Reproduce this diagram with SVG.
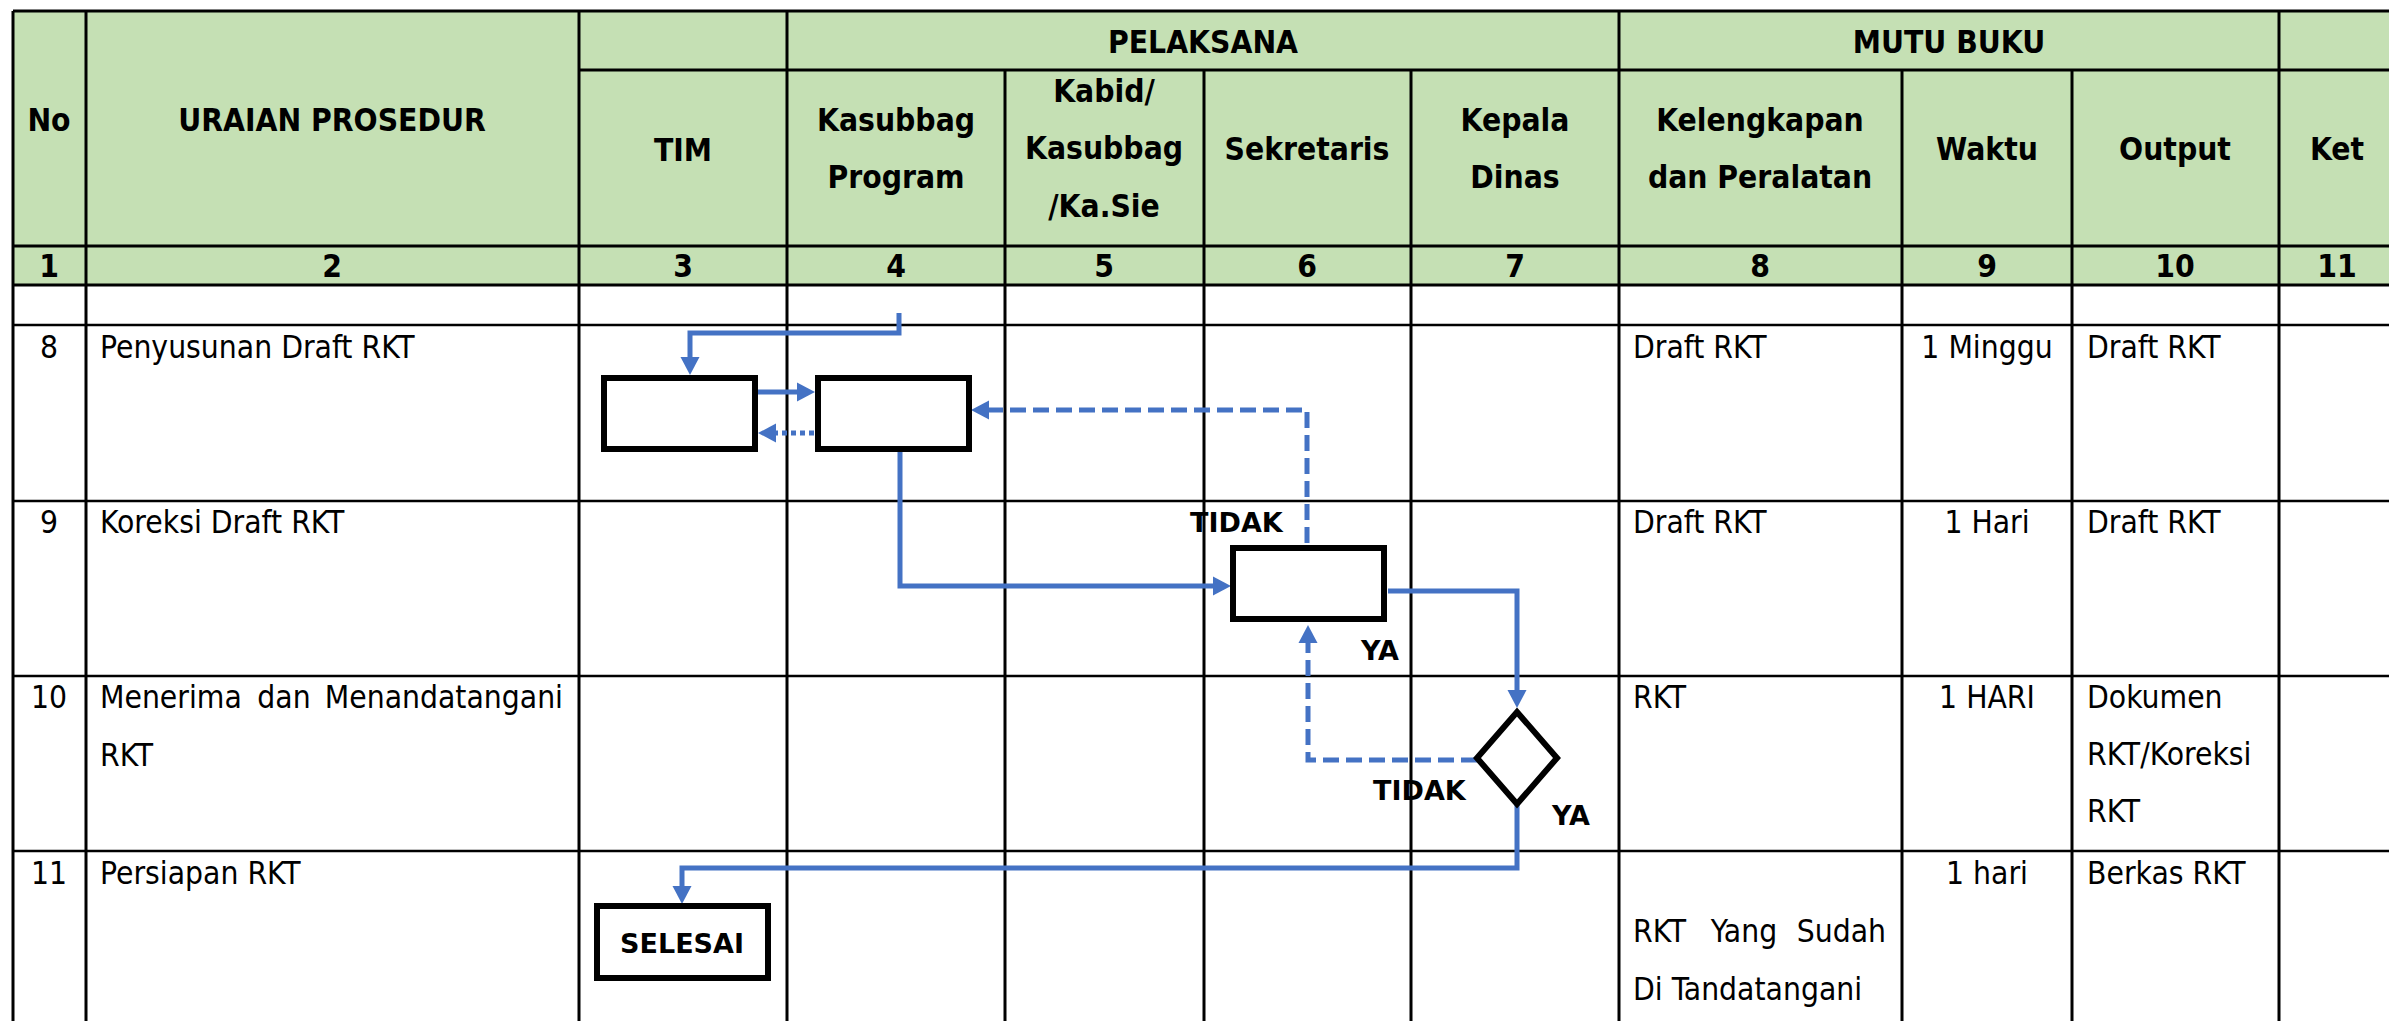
<svg xmlns="http://www.w3.org/2000/svg" width="2389" height="1021" viewBox="0 0 2389 1021">
<style>
.hl{stroke:#000;stroke-width:3;fill:none}
.bl{stroke:#000;stroke-width:2.5;fill:none}
.th{font-family:"DejaVu Sans Condensed","DejaVu Sans",sans-serif;font-stretch:condensed;font-weight:bold;font-size:31.5px;fill:#000;text-anchor:middle}
.td{font-family:"DejaVu Sans Condensed","DejaVu Sans",sans-serif;font-stretch:condensed;font-size:31.5px;fill:#000}
.mid{text-anchor:middle}
.end{text-anchor:end}
.lbl{font-family:"DejaVu Sans",sans-serif;font-weight:bold;font-size:27px;fill:#000}
.box{fill:#fff;stroke:#000;stroke-width:6}
.c{fill:none;stroke:#4472C4;stroke-width:5;stroke-linejoin:miter}
.dash{stroke-dasharray:16 7}
.dot{stroke-dasharray:5 4}
</style>
<defs>
<marker id="ah" markerUnits="userSpaceOnUse" markerWidth="20" markerHeight="20" refX="0" refY="9.5" orient="auto" overflow="visible">
<path d="M0,0 L18,9.5 L0,19 Z" fill="#4472C4"/>
</marker>
</defs>
<rect width="2389" height="1021" fill="#fff"/>
<g id="table">
<rect x="13" y="11" width="2382" height="274" fill="#C5E0B4"/>
<path class="hl" d="M13,11 H2395 M579,70 H2395 M13,246 H2395 M13,285 H2395"/>
<path class="bl" d="M13,325 H2395 M13,501 H2395 M13,676 H2395 M13,851 H2395"/>
<path class="hl" d="M13,11 V1021 M86,11 V1021 M579,11 V1021 M787,11 V1021 M1619,11 V1021 M2279,11 V1021 M1005,70 V1021 M1204,70 V1021 M1411,70 V1021 M1902,70 V1021 M2072,70 V1021"/>
</g>
<g id="header">
<text class="th" x="49" y="131">No</text>
<text class="th" x="332" y="131">URAIAN PROSEDUR</text>
<text class="th" x="683" y="161">TIM</text>
<text class="th" x="1203" y="53">PELAKSANA</text>
<text class="th" x="896" y="131">Kasubbag</text>
<text class="th" x="896" y="188">Program</text>
<text class="th" x="1104" y="102">Kabid/</text>
<text class="th" x="1104" y="159">Kasubbag</text>
<text class="th" x="1104" y="217">/Ka.Sie</text>
<text class="th" x="1307" y="160">Sekretaris</text>
<text class="th" x="1515" y="131">Kepala</text>
<text class="th" x="1515" y="188">Dinas</text>
<text class="th" x="1949" y="53">MUTU BUKU</text>
<text class="th" x="1760" y="131">Kelengkapan</text>
<text class="th" x="1760" y="188">dan Peralatan</text>
<text class="th" x="1987" y="160">Waktu</text>
<text class="th" x="2175" y="160">Output</text>
<text class="th" x="2337" y="160">Ket</text>
<text class="th" x="49" y="277">1</text>
<text class="th" x="332" y="277">2</text>
<text class="th" x="683" y="277">3</text>
<text class="th" x="896" y="277">4</text>
<text class="th" x="1104" y="277">5</text>
<text class="th" x="1307" y="277">6</text>
<text class="th" x="1515" y="277">7</text>
<text class="th" x="1760" y="277">8</text>
<text class="th" x="1987" y="277">9</text>
<text class="th" x="2175" y="277">10</text>
<text class="th" x="2337" y="277">11</text>
</g>
<g id="rows">
<text class="td mid" x="49" y="358">8</text>
<text class="td" x="100" y="358">Penyusunan Draft RKT</text>
<text class="td" x="1633" y="358">Draft RKT</text>
<text class="td mid" x="1987" y="358">1 Minggu</text>
<text class="td" x="2087" y="358">Draft RKT</text>
<text class="td mid" x="49" y="533">9</text>
<text class="td" x="100" y="533">Koreksi Draft RKT</text>
<text class="td" x="1633" y="533">Draft RKT</text>
<text class="td mid" x="1987" y="533">1 Hari</text>
<text class="td" x="2087" y="533">Draft RKT</text>
<text class="td mid" x="49" y="708">10</text>
<text class="td" x="100" y="708">Menerima</text>
<text class="td mid" x="284" y="708">dan</text>
<text class="td end" x="563" y="708">Menandatangani</text>
<text class="td" x="100" y="766">RKT</text>
<text class="td" x="1633" y="708">RKT</text>
<text class="td mid" x="1987" y="708">1 HARI</text>
<text class="td" x="2087" y="708">Dokumen</text>
<text class="td" x="2087" y="765">RKT/Koreksi</text>
<text class="td" x="2087" y="822">RKT</text>
<text class="td mid" x="49" y="884">11</text>
<text class="td" x="100" y="884">Persiapan RKT</text>
<text class="td" x="1633" y="942">RKT</text>
<text class="td mid" x="1744" y="942">Yang</text>
<text class="td end" x="1886" y="942">Sudah</text>
<text class="td" x="1633" y="1000">Di Tandatangani</text>
<text class="td mid" x="1987" y="884">1 hari</text>
<text class="td" x="2087" y="884">Berkas RKT</text>
</g>
<g id="connectors">
<path class="c" d="M899,313 V333 H690 V357" marker-end="url(#ah)"/>
<path class="c" d="M758,392 H797" marker-end="url(#ah)"/>
<path class="c dot" d="M814,433 H776" marker-end="url(#ah)"/>
<path class="c" d="M900,452 V586 H1213" marker-end="url(#ah)"/>
<path class="c dash" d="M1307,543 V410 H989" marker-end="url(#ah)"/>
<path class="c" d="M1388,591 H1517 V690" marker-end="url(#ah)"/>
<path class="c dash" d="M1477,760 H1308 V643" marker-end="url(#ah)"/>
<path class="c" d="M1517,805 V868 H682 V886" marker-end="url(#ah)"/>
</g>
<g id="node-tim"><rect class="box" x="604" y="378" width="151" height="71"/></g>
<g id="node-kasubbag"><rect class="box" x="818" y="378" width="151" height="71"/></g>
<g id="node-sekretaris"><rect class="box" x="1233" y="548" width="151" height="71"/></g>
<g id="node-kepala"><path class="box" d="M1517,712 L1557,758 L1517,804 L1477,758 Z" stroke-width="5.5"/></g>
<g id="node-selesai"><rect class="box" x="597" y="906" width="171" height="72"/><text class="lbl" x="682" y="953" text-anchor="middle">SELESAI</text></g>
<g id="labels">
<text class="lbl" x="1190" y="532">TIDAK</text>
<text class="lbl" x="1361" y="660">YA</text>
<text class="lbl" x="1373" y="800">TIDAK</text>
<text class="lbl" x="1552" y="825">YA</text>
</g>
</svg>
